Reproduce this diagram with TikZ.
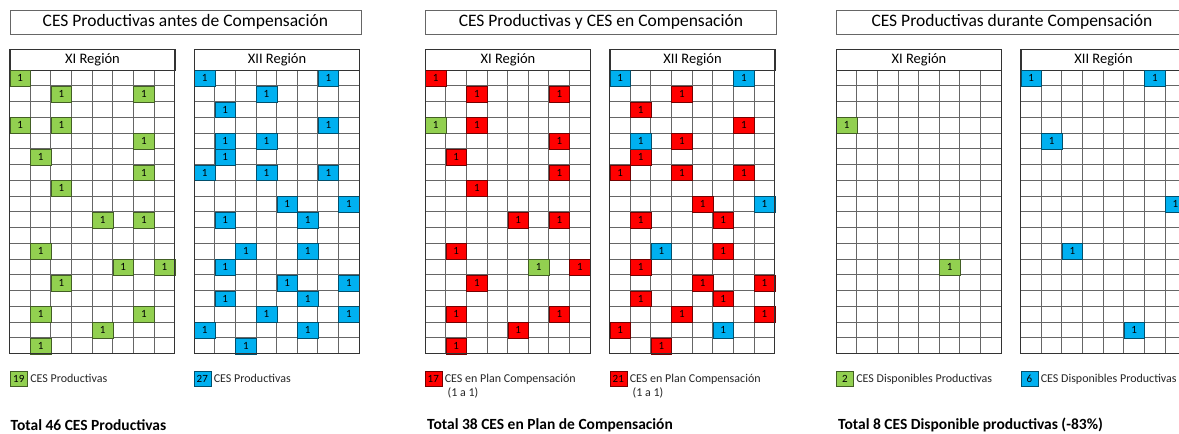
\documentclass[tikz,border=0pt]{standalone}
\usepackage{fontspec}
\setmainfont{Carlito}
\definecolor{cgreen}{HTML}{92D050}
\definecolor{cblue}{HTML}{00B0F0}
\definecolor{cred}{HTML}{FF0000}
\tikzset{
  gridline/.style={draw=black!60, line width=0.7pt},
  gframe/.style={draw=black!80, line width=1pt},
  hdr/.style={draw=black!80, line width=1pt, fill=white, minimum width=165pt, minimum height=21pt, inner sep=0pt, anchor=north west, font=\fontsize{14.5}{14.5}\selectfont},
  cellbase/.style={minimum width=20.625pt, minimum height=15.75pt, inner sep=0pt, anchor=north west, font=\fontsize{11}{11}\selectfont, line width=0.6pt},
  cG/.style={cellbase, fill=cgreen, draw=cgreen!45!black},
  cB/.style={cellbase, fill=cblue, draw=cblue!45!black},
  cR/.style={cellbase, fill=cred, draw=cred!45!black},
  titlebox/.style={draw=black!60, line width=0.8pt, fill=white, minimum width=351pt, minimum height=23.5pt, inner sep=0pt, anchor=north west, font=\fontsize{17.5}{17.5}\selectfont},
  legbox/.style={minimum width=17pt, minimum height=15pt, inner sep=0pt, anchor=north west, font=\fontsize{11}{11}\selectfont, line width=0.6pt},
  legG/.style={legbox, fill=cgreen, draw=cgreen!45!black},
  legB/.style={legbox, fill=cblue, draw=cblue!45!black},
  legR/.style={legbox, fill=cred, draw=cred!45!black},
  legtext/.style={anchor=west, inner sep=2.5pt, font=\fontsize{12}{12}\selectfont, text=black!85},
  subtext/.style={anchor=west, inner sep=0pt, font=\fontsize{12}{12}\selectfont, text=black!85},
  totaltext/.style={anchor=west, inner sep=0pt, font=\fontsize{15.5}{15.5}\selectfont\bfseries},
}
% #1 x0, #2 name, #3 label
\newcommand\cesgrid[3]{%
  \begin{scope}[shift={(#1,0)}]
    \fill[white] (0,70) rectangle (165,353.5);
    \foreach \i in {1,...,7} \draw[gridline] ({\i*20.625},70) -- ({\i*20.625},353.5);
    \foreach \j in {1,...,17} \draw[gridline] (0,{70+\j*15.75}) -- (165,{70+\j*15.75});
    \node[hdr] (#2-h) at (0,49) {#3};
  \end{scope}}
% #1 x0, #2 name, #3 style, #4 list r/c
\newcommand\cescells[4]{%
  \begin{scope}[shift={(#1,0)}]
    \foreach \r/\c in {#4}
      \node[#3] (#2-\r-\c) at ({(\c-1)*20.625},{70+(\r-1)*15.75}) {1};
  \end{scope}}
\newcommand\cesframe[1]{%
  \begin{scope}[shift={(#1,0)}]
    \draw[gframe] (0,49) rectangle (165,353.5);
  \end{scope}}
\begin{document}
\begin{tikzpicture}[x=1pt,y=-1pt]
\useasboundingbox (0,0) rectangle (1179,434);
\clip (0,0) rectangle (1179,434);
\fill[white] (0,0) rectangle (1179,434);

% ---------- titles
\node[titlebox] (t1) at (9.5,10) {CES Productivas antes de Compensación};
\node[titlebox] (t2) at (425,10) {CES Productivas y CES en Compensación};
\node[titlebox] (t3) at (836,10) {CES Productivas durante Compensación};

% ---------- grids
\cesgrid{9.5}{g1a}{XI Región}
\cesgrid{194}{g1b}{XII Región}
\cesgrid{425}{g2a}{XI Región}
\cesgrid{609.5}{g2b}{XII Región}
\cesgrid{836}{g3a}{XI Región}
\cesgrid{1020.5}{g3b}{XII Región}

% panel 1
\cescells{9.5}{g1a}{cG}{1/1,2/3,2/7,4/1,4/3,5/7,6/2,7/7,8/3,10/5,10/7,12/2,13/6,13/8,14/3,16/2,16/7,17/5,18/2}
\cescells{194}{g1b}{cB}{1/1,1/7,2/4,3/2,4/7,5/2,5/4,6/2,7/1,7/4,7/7,9/5,9/8,10/2,10/6,12/3,12/6,13/2,14/5,14/8,15/2,15/6,16/4,16/8,17/1,17/6,18/3}
% panel 2
\cescells{425}{g2a}{cR}{1/1,2/3,2/7,4/3,5/7,6/2,7/7,8/3,10/5,10/7,12/2,13/8,14/3,16/2,16/7,17/5,18/2}
\cescells{425}{g2a}{cG}{4/1,13/6}
\cescells{609.5}{g2b}{cR}{2/4,3/2,4/7,5/4,6/2,7/1,7/4,7/7,9/5,10/2,10/6,12/6,13/2,14/5,14/8,15/2,15/6,16/4,16/8,17/1,18/3}
\cescells{609.5}{g2b}{cB}{1/1,1/7,5/2,9/8,12/3,17/6}
% panel 3
\cescells{836}{g3a}{cG}{4/1,13/6}
\cescells{1020.5}{g3b}{cB}{1/1,1/7,5/2,9/8,12/3,17/6}

\cesframe{9.5}
\cesframe{194}
\cesframe{425}
\cesframe{609.5}
\cesframe{836}
\cesframe{1020.5}

% ---------- legends
\node[legG] (l1) at (10,371) {19};
\node[legtext] (l1t) at (l1.east) {CES Productivas};
\node[legB] (l2) at (193.5,371) {27};
\node[legtext] (l2t) at (l2.east) {CES Productivas};
\node[legR] (l3) at (424.5,371) {17};
\node[legtext] (l3t) at (l3.east) {CES en Plan Compensación};
\node[subtext] (l3s) at (447.5,393) {(1 a 1)};
\node[legR] (l4) at (609.5,371) {21};
\node[legtext] (l4t) at (l4.east) {CES en Plan Compensación};
\node[subtext] (l4s) at (632.5,393) {(1 a 1)};
\node[legG] (l5) at (836,371) {2};
\node[legtext] (l5t) at (l5.east) {CES Disponibles Productivas};
\node[legB] (l6) at (1020.5,371) {6};
\node[legtext] (l6t) at (l6.east) {CES Disponibles Productivas};

% ---------- totals
\node[totaltext] (s1) at (10.5,425) {Total 46 CES Productivas};
\node[totaltext] (s2) at (427,425) {Total 38 CES en Plan de Compensación};
\node[totaltext] (s3) at (838,425) {Total 8 CES Disponible productivas (-83\%)};
\end{tikzpicture}
\end{document}
